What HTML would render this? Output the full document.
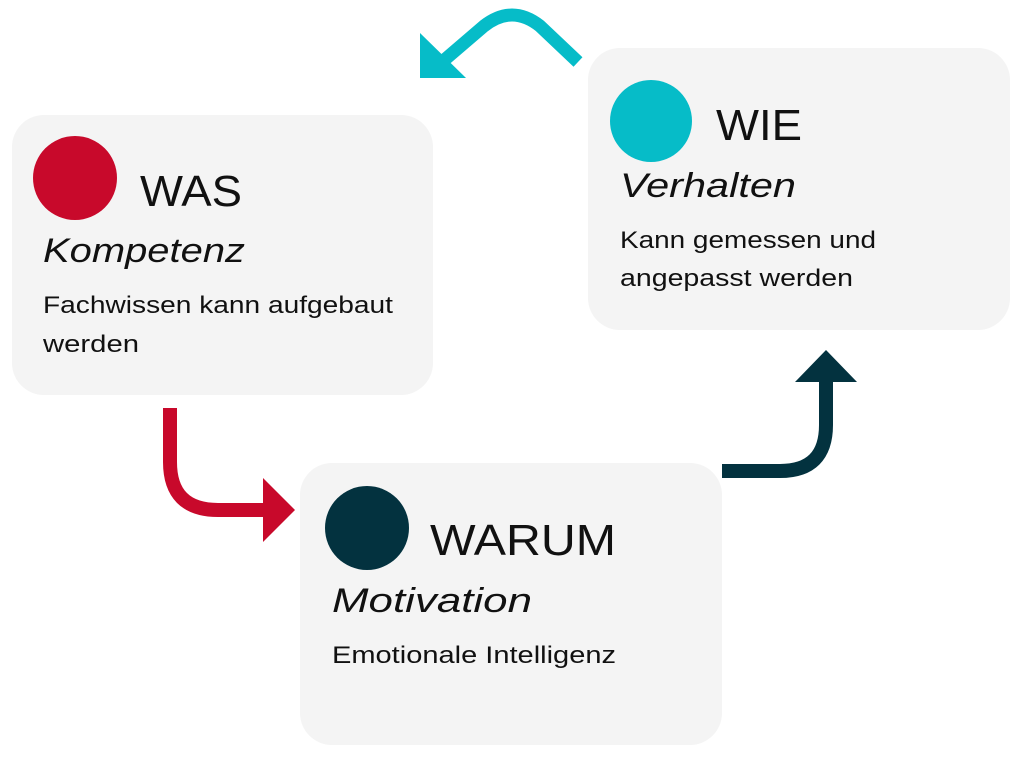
<!DOCTYPE html>
<html><head><meta charset="utf-8"><style>
html,body{margin:0;padding:0;background:#fff;width:1024px;height:761px;overflow:hidden}
</style></head><body>
<svg width="1024" height="761" viewBox="0 0 1024 761" xmlns="http://www.w3.org/2000/svg" font-family="'Liberation Sans', sans-serif">
<rect x="12" y="115" width="421" height="280" rx="32" fill="#f4f4f4"/>
<rect x="588" y="48" width="422" height="282" rx="32" fill="#f4f4f4"/>
<rect x="300" y="463" width="422" height="282" rx="32" fill="#f4f4f4"/>
<circle cx="75" cy="178" r="42" fill="#c8092b"/>
<circle cx="651" cy="121" r="41" fill="#06bcc8"/>
<circle cx="367" cy="528" r="42" fill="#03323f"/>
<g fill="#111">
<text x="140" y="206" font-size="44" textLength="102" lengthAdjust="spacingAndGlyphs">WAS</text>
<text x="43" y="262" font-size="34" font-style="italic" textLength="202" lengthAdjust="spacingAndGlyphs">Kompetenz</text>
<text x="43" y="313" font-size="24" textLength="350" lengthAdjust="spacingAndGlyphs">Fachwissen kann aufgebaut</text>
<text x="43" y="352" font-size="24" textLength="96" lengthAdjust="spacingAndGlyphs">werden</text>
<text x="716" y="140" font-size="44" textLength="86" lengthAdjust="spacingAndGlyphs">WIE</text>
<text x="620" y="197" font-size="34" font-style="italic" textLength="176" lengthAdjust="spacingAndGlyphs">Verhalten</text>
<text x="620" y="248" font-size="24" textLength="256" lengthAdjust="spacingAndGlyphs">Kann gemessen und</text>
<text x="620" y="286" font-size="24" textLength="233" lengthAdjust="spacingAndGlyphs">angepasst werden</text>
<text x="430" y="555" font-size="44" textLength="186" lengthAdjust="spacingAndGlyphs">WARUM</text>
<text x="332" y="612" font-size="34" font-style="italic" textLength="200" lengthAdjust="spacingAndGlyphs">Motivation</text>
<text x="332" y="663" font-size="24" textLength="284" lengthAdjust="spacingAndGlyphs">Emotionale Intelligenz</text>
</g>
<path d="M170,408 L170,462 Q170,510 218,510 L268,510" fill="none" stroke="#c8092b" stroke-width="14"/>
<polygon points="263,478 295,510 263,542" fill="#c8092b"/>
<path d="M722,471 L780,471 Q826,471 826,425 L826,378" fill="none" stroke="#03323f" stroke-width="14"/>
<polygon points="795,382 826,350 857,382" fill="#03323f"/>
<path d="M578,62 L540,26 Q512,4 484,26 L442,62" fill="none" stroke="#06bcc8" stroke-width="13"/>
<polygon points="420,33 420,78 466,78" fill="#06bcc8"/>
</svg>
</body></html>
